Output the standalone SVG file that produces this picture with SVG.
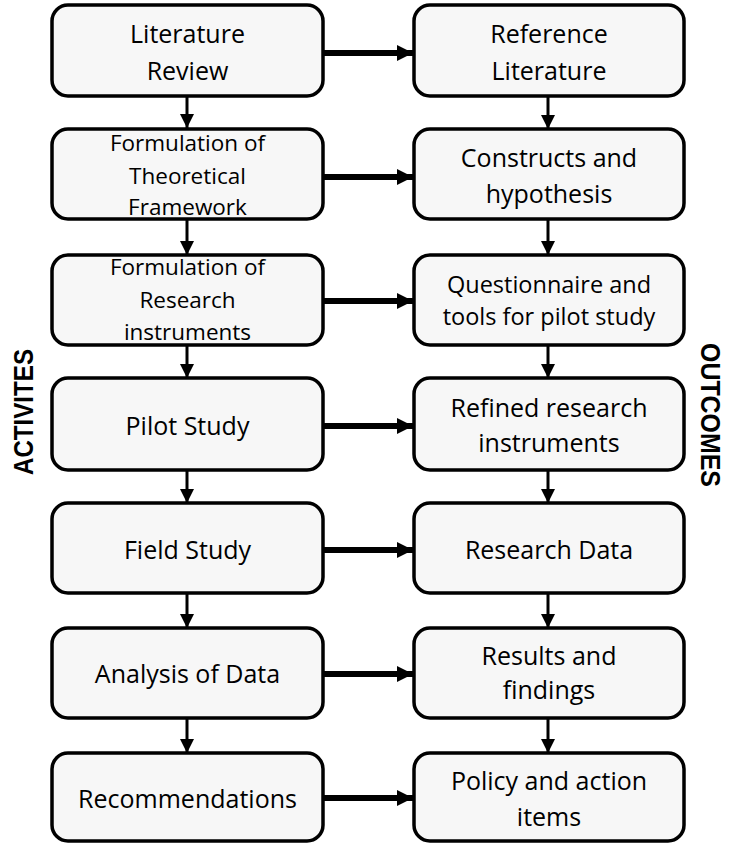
<svg xmlns="http://www.w3.org/2000/svg" width="731" height="843" viewBox="0 0 731 843">
<style>
.box{fill:#f7f7f7;stroke:#000;stroke-width:3.5}
.t{font-family:"Open Sans","Liberation Sans",sans-serif;font-size:25px;fill:#000;text-anchor:middle}
.s{font-size:22.5px}
.m{font-size:23.5px}
.v{stroke:#000;stroke-width:3;fill:none}
.h{stroke:#000;stroke-width:6;fill:none}
.side{font-family:"Liberation Sans",Arial,sans-serif;font-weight:bold;font-size:27px;fill:#000;text-anchor:middle}
</style>
<defs>
<marker id="av" markerUnits="userSpaceOnUse" markerWidth="16" markerHeight="14" refX="14" refY="7" orient="auto">
<path d="M0,0 L14,7 L0,14 Z" fill="#000"/>
</marker>
<marker id="ah" markerUnits="userSpaceOnUse" markerWidth="18" markerHeight="18" refX="16" refY="8" orient="auto">
<path d="M0,0 L16,8 L0,16 Z" fill="#000"/>
</marker>
</defs>
<rect width="731" height="843" fill="#fff"/>

<g id="connectors">
<path class="v" d="M187,96 V128" marker-end="url(#av)"/>
<path class="v" d="M187,219 V255" marker-end="url(#av)"/>
<path class="v" d="M187,345 V378" marker-end="url(#av)"/>
<path class="v" d="M187,470 V503" marker-end="url(#av)"/>
<path class="v" d="M187,593 V628" marker-end="url(#av)"/>
<path class="v" d="M187,718 V753" marker-end="url(#av)"/>
<path class="v" d="M548,96 V129" marker-end="url(#av)"/>
<path class="v" d="M548,219 V255" marker-end="url(#av)"/>
<path class="v" d="M548,345 V378" marker-end="url(#av)"/>
<path class="v" d="M548,470 V503" marker-end="url(#av)"/>
<path class="v" d="M548,593 V628" marker-end="url(#av)"/>
<path class="v" d="M548,718 V753" marker-end="url(#av)"/>
<path class="h" d="M323,53 H413" marker-end="url(#ah)"/>
<path class="h" d="M323,177 H413" marker-end="url(#ah)"/>
<path class="h" d="M323,301 H413" marker-end="url(#ah)"/>
<path class="h" d="M323,426 H413" marker-end="url(#ah)"/>
<path class="h" d="M323,550 H413" marker-end="url(#ah)"/>
<path class="h" d="M323,674 H413" marker-end="url(#ah)"/>
<path class="h" d="M323,798 H413" marker-end="url(#ah)"/>
</g>

<g id="a1"><rect class="box" x="52" y="5" width="271" height="91" rx="16"/>
<text class="t" x="187.5" y="43">Literature</text><text class="t" x="187.5" y="80">Review</text></g>
<g id="a2"><rect class="box" x="52" y="129" width="271" height="90" rx="16"/>
<text class="t s" x="187.5" y="151">Formulation of</text><text class="t s" x="187.5" y="184">Theoretical</text><text class="t s" x="187.5" y="215">Framework</text></g>
<g id="a3"><rect class="box" x="52" y="255" width="271" height="90" rx="16"/>
<text class="t s" x="187.5" y="275">Formulation of</text><text class="t s" x="187.5" y="308">Research</text><text class="t s" x="187.5" y="340">instruments</text></g>
<g id="a4"><rect class="box" x="52" y="378" width="271" height="92" rx="16"/>
<text class="t" x="187.5" y="435">Pilot Study</text></g>
<g id="a5"><rect class="box" x="52" y="503" width="271" height="90" rx="16"/>
<text class="t" x="187.5" y="559">Field Study</text></g>
<g id="a6"><rect class="box" x="52" y="628" width="271" height="90" rx="16"/>
<text class="t" x="187.5" y="683">Analysis of Data</text></g>
<g id="a7"><rect class="box" x="52" y="753" width="271" height="88" rx="16"/>
<text class="t" x="187.5" y="808">Recommendations</text></g>

<g id="o1"><rect class="box" x="414" y="5" width="270" height="91" rx="16"/>
<text class="t" x="549" y="43">Reference</text><text class="t" x="549" y="80">Literature</text></g>
<g id="o2"><rect class="box" x="414" y="129" width="270" height="90" rx="16"/>
<text class="t" x="549" y="167">Constructs and</text><text class="t" x="549" y="203">hypothesis</text></g>
<g id="o3"><rect class="box" x="414" y="255" width="270" height="90" rx="16"/>
<text class="t m" x="549" y="293">Questionnaire and</text><text class="t m" x="549" y="325">tools for pilot study</text></g>
<g id="o4"><rect class="box" x="414" y="378" width="270" height="92" rx="16"/>
<text class="t" x="549" y="417">Refined research</text><text class="t" x="549" y="452">instruments</text></g>
<g id="o5"><rect class="box" x="414" y="503" width="270" height="90" rx="16"/>
<text class="t" x="549" y="559">Research Data</text></g>
<g id="o6"><rect class="box" x="414" y="628" width="270" height="90" rx="16"/>
<text class="t" x="549" y="665">Results and</text><text class="t" x="549" y="699">findings</text></g>
<g id="o7"><rect class="box" x="414" y="753" width="270" height="88" rx="16"/>
<text class="t" x="549" y="790">Policy and action</text><text class="t" x="549" y="826">items</text></g>

<g id="label-activities"><text class="side" transform="translate(33,412) rotate(-90)" textLength="126" lengthAdjust="spacingAndGlyphs">ACTIVITES</text></g>
<g id="label-outcomes"><text class="side" transform="translate(701,415) rotate(90)" textLength="144" lengthAdjust="spacingAndGlyphs">OUTCOMES</text></g>
</svg>
